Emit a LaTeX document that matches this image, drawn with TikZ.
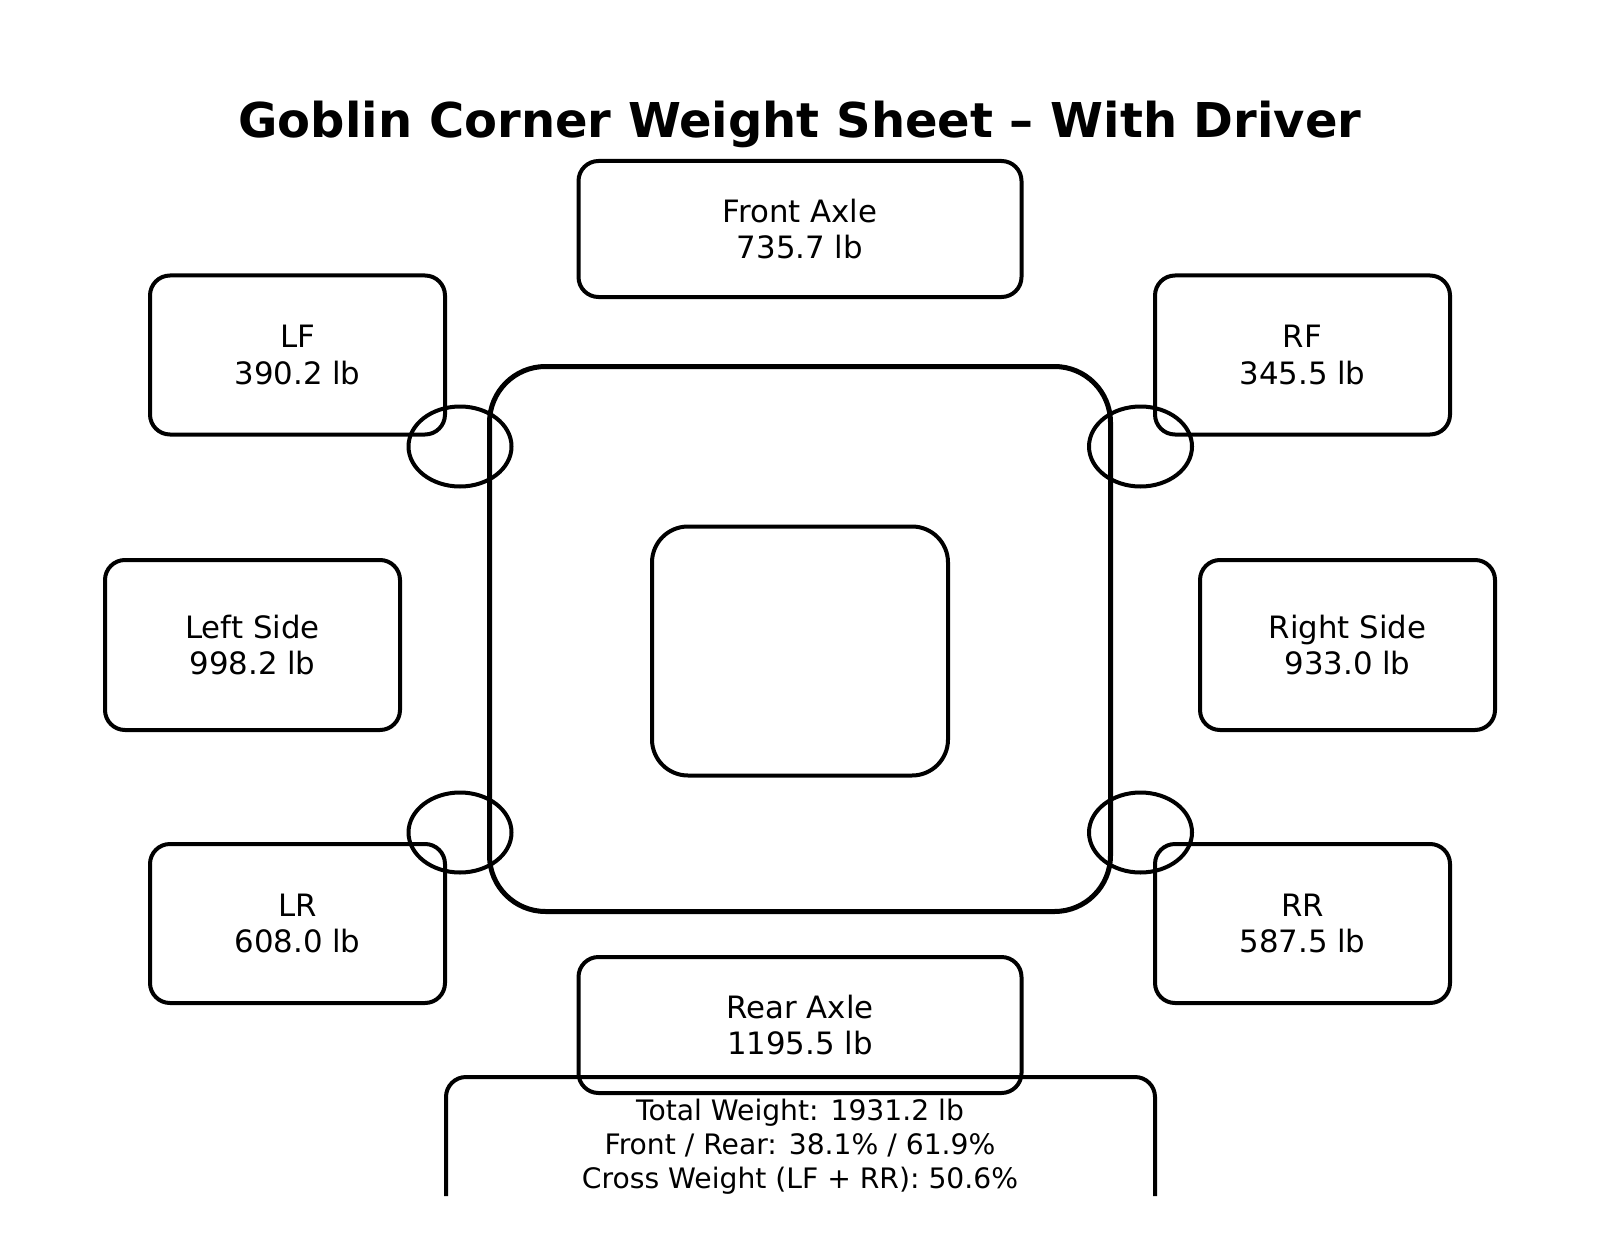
\documentclass[tikz,border=0pt]{standalone}
\usepackage{fontspec}
\setmainfont{DejaVu Sans}
\usetikzlibrary{shapes.geometric}

\tikzset{
  wbox/.style={draw, line width=2pt, rounded corners=10pt, inner sep=0pt,
    minimum width=147.5pt, minimum height=79.5pt, align=center,
    font=\fontsize{15.4}{18.4}\selectfont},
  axlebox/.style={wbox, minimum width=221.5pt, minimum height=68pt},
  sidebox/.style={wbox, minimum height=85pt},
  wheel/.style={draw, ellipse, line width=2pt, inner sep=0pt,
    minimum width=51.5pt, minimum height=40pt},
}

\begin{document}
\begin{tikzpicture}[x=0.5pt, y=-0.5pt]
    \useasboundingbox (0,0) rectangle (1600,1257);
    \node[anchor=base, font=\fontsize{24}{28}\selectfont\bfseries] (title) at (800,138) {Goblin Corner Weight Sheet – With Driver};

    % car body
    \node[draw, line width=2.5pt, rounded corners=28pt, minimum width=310.5pt, minimum height=272.5pt] (chassis) at (800,639) {};
    \node[draw, line width=2pt, rounded corners=18pt, minimum width=148pt, minimum height=124.5pt] (cabin) at (800,651) {};

    % wheels
    \node[wheel] (lfw) at (460,446.5) {};
    \node[wheel] (rfw) at (1140.5,446.5) {};
    \node[wheel] (lrw) at (460,832.5) {};
    \node[wheel] (rrw) at (1140.5,832.5) {};

    % corner and axle weights
    \node[axlebox] (front) at (800,229) {Front Axle\\735.7 lb};
    \node[wbox] (lf) at (297.5,355) {LF\\390.2 lb};
    \node[wbox] (rf) at (1302.5,355) {RF\\345.5 lb};
    \node[sidebox] (left) at (252.5,645) {Left Side\\998.2 lb};
    \node[sidebox] (right) at (1347.5,645) {Right Side\\933.0 lb};
    \node[wbox] (lr) at (297.5,923.5) {LR\\608.0 lb};
    \node[wbox] (rr) at (1302.5,923.5) {RR\\587.5 lb};
    \node[axlebox] (rear) at (800,1025) {Rear Axle\\1195.5 lb};

    % summary
    \draw[line width=2pt, rounded corners=10pt] (446,1196) |- (800,1077) -| (1155,1196);
    \node[align=center, font=\fontsize{14.1}{16.9}\selectfont] (summary) at (800,1146.5) {Total Weight: 1931.2 lb\\Front / Rear: 38.1\% / 61.9\%\\Cross Weight (LF + RR): 50.6\%};
\end{tikzpicture}
\end{document}
